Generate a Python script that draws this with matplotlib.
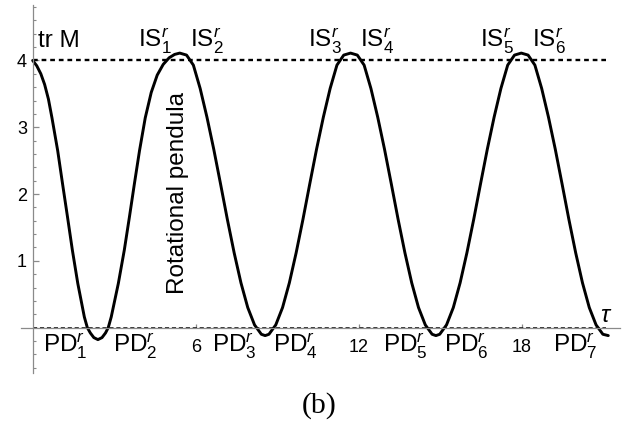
import matplotlib
matplotlib.use("Agg")
import matplotlib.pyplot as plt

plt.rcParams['font.family'] = ['Liberation Sans', 'DejaVu Sans']
plt.rcParams['mathtext.fontset'] = 'custom'
plt.rcParams['mathtext.rm'] = 'Liberation Sans'
plt.rcParams['mathtext.it'] = 'Liberation Sans:italic'
plt.rcParams['mathtext.bf'] = 'Liberation Sans:bold'
plt.rcParams['lines.scale_dashes'] = False

# ---- data ----
tau = [0.00, 0.15, 0.30, 0.44, 0.58, 0.71, 0.92, 1.10, 1.28, 1.46, 1.66, 1.90,
       2.01, 2.12, 2.25, 2.40, 2.55, 2.68, 2.78, 2.89, 3.15, 3.37, 3.56, 3.74,
       3.93, 4.14, 4.36, 4.58, 4.80, 5.02, 5.22, 5.41,
       5.66, 5.91, 6.16, 6.41, 6.66, 6.91, 7.16, 7.41, 7.66, 7.91, 8.16, 8.41, 8.55,
       8.69, 8.94, 9.19, 9.44, 9.69, 9.94, 10.19, 10.44, 10.69, 10.94, 11.19, 11.44, 11.69,
       11.94, 12.19, 12.44, 12.69, 12.94, 13.19, 13.44, 13.69, 13.94, 14.19, 14.44, 14.69, 14.83,
       14.97, 15.22, 15.47, 15.72, 15.97, 16.22, 16.47, 16.72, 16.97, 17.22, 17.47, 17.72, 17.97,
       18.22, 18.47, 18.72, 18.97, 19.22, 19.47, 19.72, 19.97, 20.22, 20.47, 20.72, 20.97, 21.17]
trM = [4.00, 3.92, 3.80, 3.64, 3.42, 3.14, 2.65, 2.15, 1.66, 1.16, 0.66, 0.16,
       0.00, -0.08, -0.15, -0.18, -0.15, -0.08, 0.00, 0.16, 0.66, 1.16, 1.66, 2.15,
       2.65, 3.14, 3.52, 3.78, 3.94, 4.04, 4.09, 4.11,
       4.08, 3.93, 3.58, 3.15, 2.67, 2.15, 1.62, 1.12, 0.67, 0.30, 0.04, -0.10, -0.12,
       -0.10, 0.04, 0.30, 0.67, 1.12, 1.62, 2.15, 2.67, 3.15, 3.58, 3.93, 4.08, 4.11,
       4.08, 3.93, 3.58, 3.15, 2.67, 2.15, 1.62, 1.12, 0.67, 0.30, 0.04, -0.10, -0.12,
       -0.10, 0.04, 0.30, 0.67, 1.12, 1.62, 2.15, 2.67, 3.15, 3.58, 3.93, 4.08, 4.11,
       4.08, 3.93, 3.58, 3.15, 2.67, 2.15, 1.62, 1.12, 0.67, 0.30, 0.04, -0.10, -0.12]

ref_levels = [4.0, 0.0]
ref_span = [0.0, 21.1]

x_ticks = [6, 12, 18]
x_ticklabels = ['6', '12', '18']
y_ticks = [1, 2, 3, 4]
y_ticklabels = ['1', '2', '3', '4']

is_labels = [r'IS$_1^r$', r'IS$_2^r$', r'IS$_3^r$', r'IS$_4^r$', r'IS$_5^r$', r'IS$_6^r$']
is_x = [3.875, 5.79, 10.12, 12.04, 16.45, 18.36]
pd_labels = [r'PD$_1^r$', r'PD$_2^r$', r'PD$_3^r$', r'PD$_4^r$', r'PD$_5^r$', r'PD$_6^r$', r'PD$_7^r$']
pd_x = [0.38, 2.96, 6.60, 8.84, 12.88, 15.13, 19.13]

W, H = 627, 423
fig = plt.figure(figsize=(W / 100, H / 100), dpi=100)
x0, x1 = -0.44, 21.6
y0, y1 = -0.68, 4.83
ax = fig.add_axes([20.7 / W, 1 - 373 / H, (620 - 20.7) / W, (373 - 5) / H])
ax.set_xlim(x0, x1)
ax.set_ylim(y0, y1)

for s in ['top', 'right']:
    ax.spines[s].set_visible(False)
for s in ['left', 'bottom']:
    ax.spines[s].set_position(('data', 0))
    ax.spines[s].set_color('#8a8a8a')
    ax.spines[s].set_linewidth(0.9)

ax.set_xticks(x_ticks)
ax.set_xticklabels(x_ticklabels)
ax.set_yticks(y_ticks)
ax.set_yticklabels(y_ticklabels)
ax.set_yticks([v / 5 for v in range(-3, 25) if v % 5 != 0], minor=True)
ax.tick_params(axis='both', which='both', direction='in', color='#8a8a8a', labelcolor='black')
ax.tick_params(axis='y', which='major', length=4, width=0.9, labelsize=13, pad=4)
ax.tick_params(axis='y', which='minor', length=2.5, width=0.8)
ax.tick_params(axis='x', which='major', length=3, width=0.9, labelsize=13, pad=8)

# reference lines
ax.plot(ref_span, [ref_levels[0]] * 2, color='black', lw=1.7, dashes=(3.4, 2.8))
ax.plot(ref_span, [ref_levels[1]] * 2, color='black', lw=1.1, dashes=(3.0, 2.0))

ax.plot(tau, trM, color='black', lw=2.1, solid_capstyle='round', solid_joinstyle='round')

fs = 17.5
ax.text(0.20, 4.20, 'tr M', fontsize=fs, ha='left', va='baseline')
for lab, xx in zip(is_labels, is_x):
    ax.text(xx, 4.19, lab, fontsize=fs, ha='left', va='baseline')
for lab, xx in zip(pd_labels, pd_x):
    ax.text(xx, -0.379, lab, fontsize=fs, ha='left', va='baseline')
ax.text(20.86, 0.085, r'$\tau$', fontsize=fs, ha='left', va='baseline')
ax.text(5.35, 2.01, 'Rotational pendula', fontsize=fs, rotation=90, ha='center', va='center')

fig.text(319 / W, 1 - 406 / H, '(b)', fontsize=21.5, family='Liberation Serif', ha='center', va='center')

fig.savefig('out.png', dpi=100)
